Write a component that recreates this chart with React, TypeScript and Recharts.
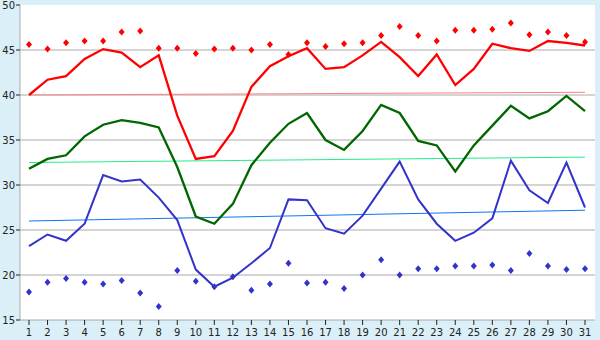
import { CartesianGrid, LineChart, Line, XAxis, YAxis } from "recharts";

const days = [
  "1", "2", "3", "4", "5", "6", "7", "8", "9", "10", "11", "12", "13", "14", "15", "16",
  "17", "18", "19", "20", "21", "22", "23", "24", "25", "26", "27", "28", "29", "30", "31",
];

const redLine = [
  40.0, 41.7, 42.1, 44.0, 45.1, 44.7, 43.1, 44.4, 37.7, 32.9, 33.2, 36.0, 40.9, 43.2, 44.3, 45.2,
  42.9, 43.1, 44.4, 45.9, 44.2, 42.1, 44.5, 41.1, 42.9, 45.7, 45.2, 44.9, 46.0, 45.8, 45.5,
];
const redMarks = [
  45.6, 45.1, 45.8, 46.0, 46.0, 47.0, 47.1, 45.2, 45.2, 44.6, 45.1, 45.2, 45.0, 45.6, 44.5, 45.8,
  45.4, 45.7, 45.8, 46.6, 47.6, 46.6, 46.0, 47.2, 47.2, 47.3, 48.0, 46.7, 47.0, 46.6, 45.9,
];
const greenLine = [
  31.8, 32.9, 33.3, 35.4, 36.7, 37.2, 36.9, 36.4, 32.0, 26.5, 25.7, 27.9, 32.2, 34.7, 36.8, 38.0,
  35.0, 33.9, 36.0, 38.9, 38.0, 34.9, 34.4, 31.5, 34.4, 36.6, 38.8, 37.4, 38.2, 39.9, 38.2,
];
const blueLine = [
  23.2, 24.5, 23.8, 25.7, 31.1, 30.4, 30.6, 28.6, 26.1, 20.6, 18.7, 19.7, 21.3, 23.0, 28.4, 28.3,
  25.2, 24.6, 26.6, 29.6, 32.6, 28.4, 25.7, 23.8, 24.7, 26.3, 32.7, 29.4, 28.0, 32.5, 27.5,
];
const blueMarks = [
  18.1, 19.2, 19.6, 19.2, 19.0, 19.4, 18.0, 16.5, 20.5, 19.3, 18.7, 19.8, 18.3, 19.0, 21.3, 19.1,
  19.2, 18.5, 20.0, 21.7, 20.0, 20.7, 20.7, 21.0, 21.0, 21.1, 20.5, 22.4, 21.0, 20.6, 20.7,
];
// trend lines: start and end values only
const redTrend = [40.0, 40.3];
const greenTrend = [32.5, 33.1];
const blueTrend = [26.0, 27.2];

const yTicks = [15, 20, 25, 30, 35, 40, 45, 50];

const last = days.length - 1;
const data = days.map((day, i) => ({
  day,
  red: redLine[i],
  redMark: redMarks[i],
  green: greenLine[i],
  blue: blueLine[i],
  blueMark: blueMarks[i],
  redTrend: i === 0 ? redTrend[0] : i === last ? redTrend[1] : null,
  greenTrend: i === 0 ? greenTrend[0] : i === last ? greenTrend[1] : null,
  blueTrend: i === 0 ? blueTrend[0] : i === last ? blueTrend[1] : null,
}));

const diamond = (color: string) => (props: any) => {
  const { cx, cy, index } = props;
  if (cx == null || cy == null) return <g key={index} />;
  return (
    <path
      key={index}
      d={`M${cx},${cy - 3.5}L${cx + 3},${cy}L${cx},${cy + 3.5}L${cx - 3},${cy}Z`}
      fill={color}
    />
  );
};

const tickStyle = { fill: "#222", fontSize: 10, fontFamily: "DejaVu Sans" };

export default function App() {
  return (
    <div
      style={{
        position: "absolute",
        top: 0,
        left: 0,
        width: 600,
        height: 340,
        background: "#daeff7",
      }}
    >
      <LineChart
        width={600}
        height={340}
        data={data}
        margin={{ top: 5, right: 5, bottom: 0, left: 0 }}
      >
        <CartesianGrid
          vertical={false}
          horizontalValues={[20, 25, 30, 35, 40, 45]}
          stroke="#aaaaaa"
          fill="#ffffff"
        />
        <XAxis
          dataKey="day"
          height={20}
          interval={0}
          padding={{ left: 9, right: 10 }}
          tickSize={5}
          tickMargin={4}
          stroke="#aaaaaa"
          tickLine={{ stroke: "#222" }}
          tick={tickStyle}
        />
        <YAxis
          domain={[15, 50]}
          ticks={yTicks}
          width={20}
          tickSize={4}
          tickMargin={1}
          stroke="#aaaaaa"
          tickLine={{ stroke: "#222" }}
          tick={tickStyle}
        />
        <YAxis
          yAxisId="right"
          orientation="right"
          width={0}
          domain={[0, 1]}
          tick={false}
          tickLine={false}
          stroke="#aaaaaa"
        />
        <Line dataKey="redTrend" stroke="#ff8080" strokeWidth={1} dot={false} connectNulls isAnimationActive={false} />
        <Line dataKey="greenTrend" stroke="#22ee88" strokeWidth={1} dot={false} connectNulls isAnimationActive={false} />
        <Line dataKey="blueTrend" stroke="#1177ee" strokeWidth={1} dot={false} connectNulls isAnimationActive={false} />
        <Line dataKey="red" type="linear" stroke="#ff0000" strokeWidth={2.3} dot={false} isAnimationActive={false} />
        <Line dataKey="green" type="linear" stroke="#006600" strokeWidth={2.3} dot={false} isAnimationActive={false} />
        <Line dataKey="blue" type="linear" stroke="#3333cc" strokeWidth={2} dot={false} isAnimationActive={false} />
        <Line dataKey="redMark" stroke="none" dot={diamond("#ff0000")} activeDot={false} isAnimationActive={false} />
        <Line dataKey="blueMark" stroke="none" dot={diamond("#3333cc")} activeDot={false} isAnimationActive={false} />
      </LineChart>
    </div>
  );
}
